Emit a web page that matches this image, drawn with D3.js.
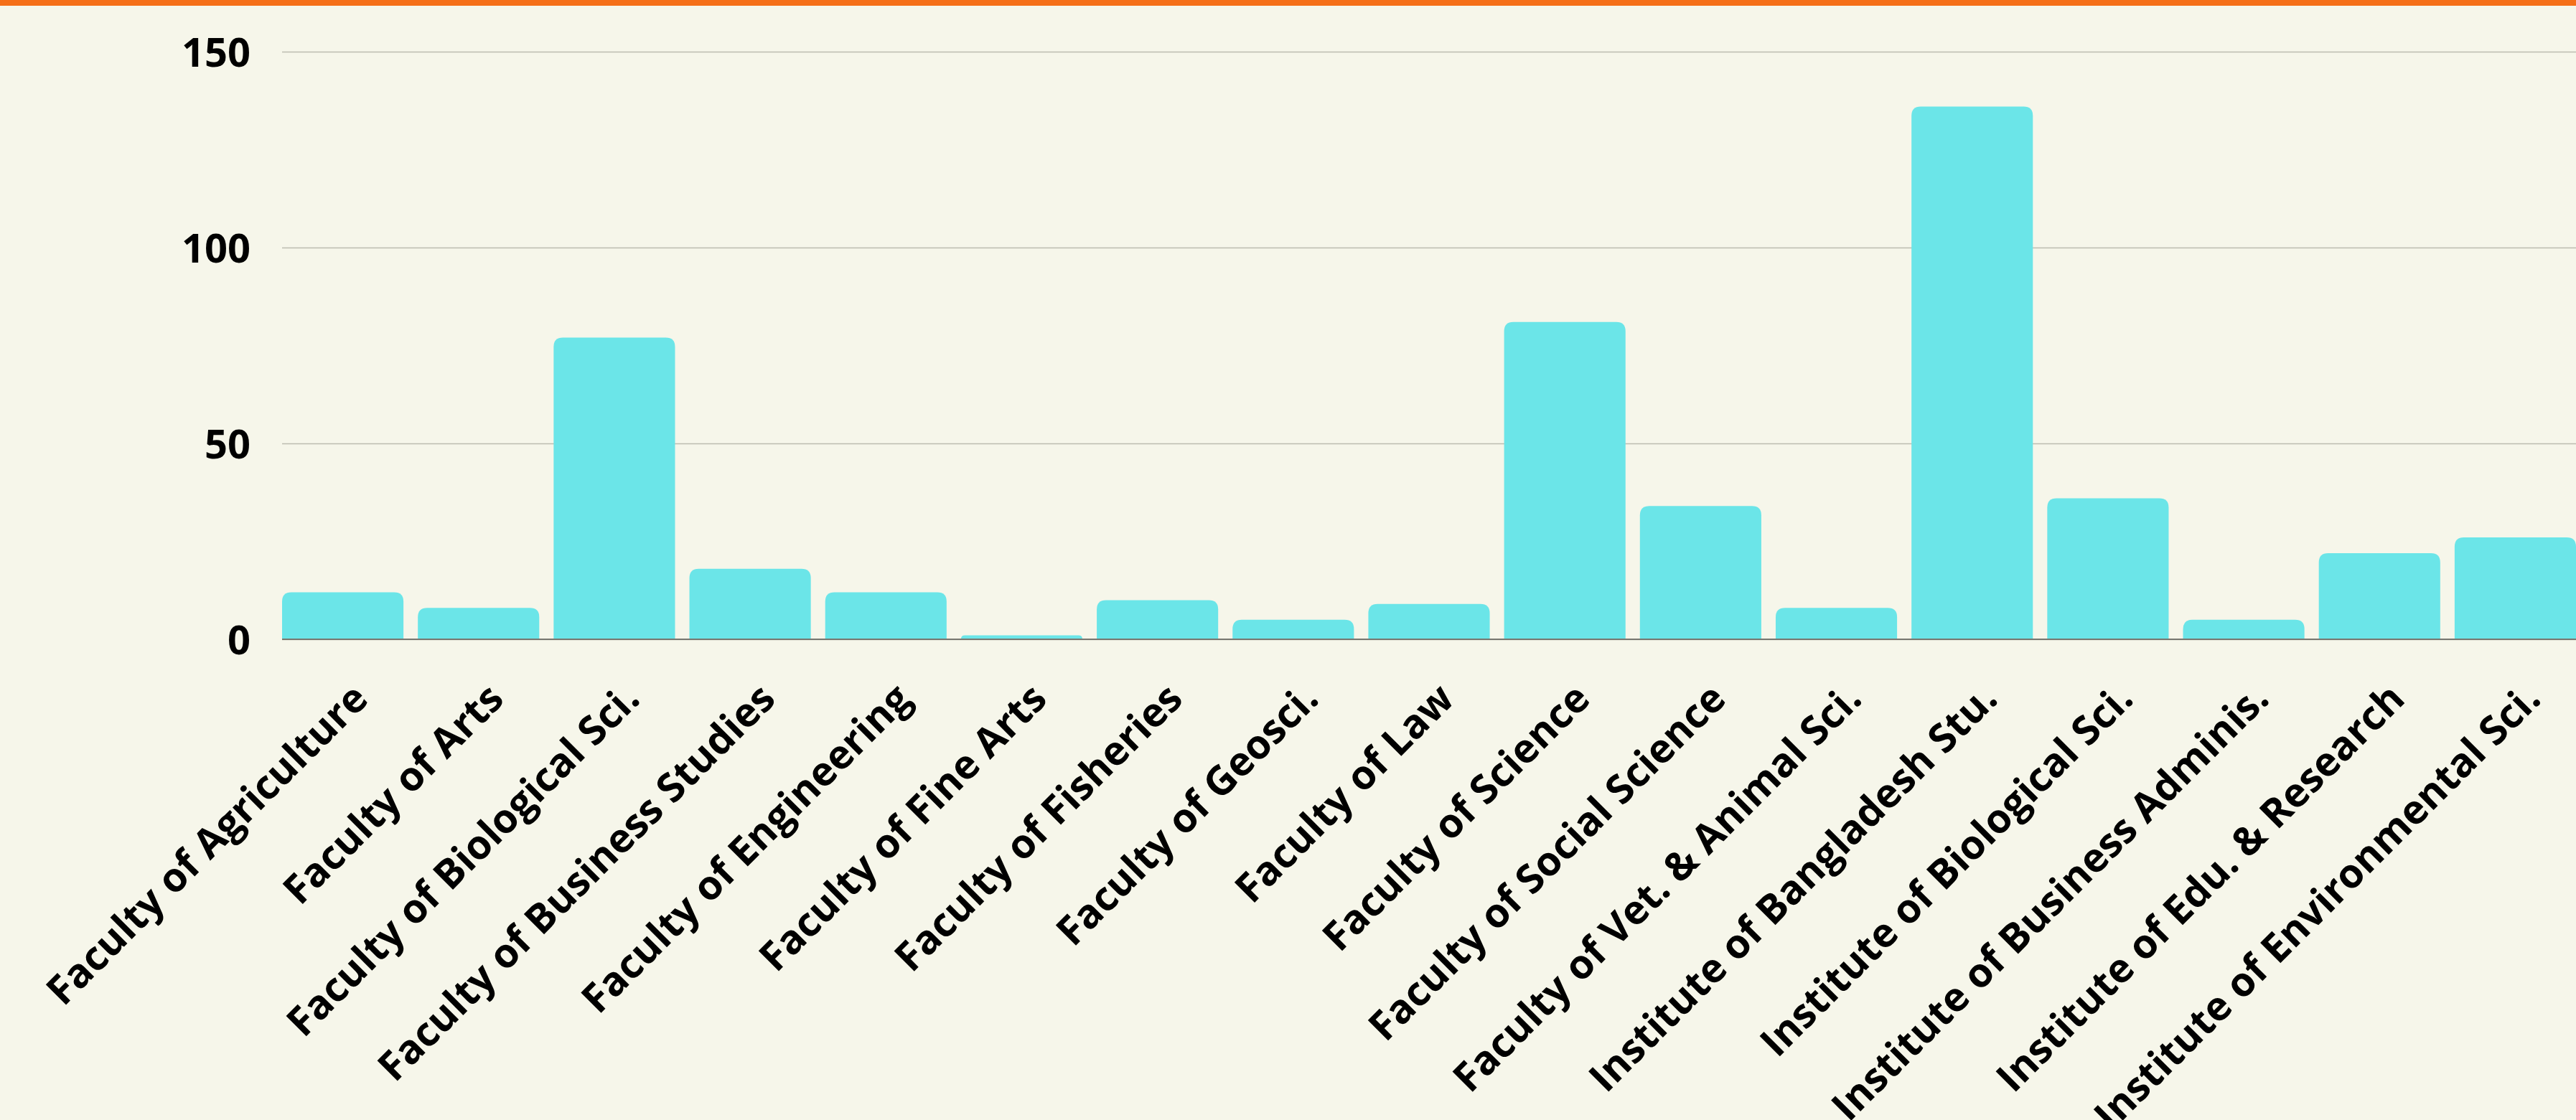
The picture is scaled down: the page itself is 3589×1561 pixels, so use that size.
<!DOCTYPE html>
<html>
<head>
<meta charset="utf-8">
<script src="https://cdn.jsdelivr.net/npm/d3@7"></script>
<style>
  html, body { margin: 0; padding: 0; background: #F6F6EA; overflow: hidden; }
  #chart { width: 3589px; height: 1561px; }
  text { font-family: 'Open Sans', 'Noto Sans', sans-serif; font-weight: 700; fill: #000; }
</style>
</head>
<body>
<div id="chart"></div>
<script>
const categories = [
  'Faculty of Agriculture',
  'Faculty of Arts',
  'Faculty of Biological Sci.',
  'Faculty of Business Studies',
  'Faculty of Engineering',
  'Faculty of Fine Arts',
  'Faculty of Fisheries',
  'Faculty of Geosci.',
  'Faculty of Law',
  'Faculty of Science',
  'Faculty of Social Science',
  'Faculty of Vet. & Animal Sci.',
  'Institute of Bangladesh Stu.',
  'Institute of Biological Sci.',
  'Institute of Business Adminis.',
  'Institute of Edu. & Research',
  'Institute of Environmental Sci.'
];
const values = [12, 8, 77, 18, 12, 1, 10, 5, 9, 81, 34, 8, 136, 36, 5, 22, 26];
const yTicks = [0, 50, 100, 150];

function chart() {
  const width = 3589;
  const height = 1561;
  const margin = { top: 72, left: 393, right: 0, bottom: 670 };
  const barColor = '#6BE5E8';
  const gridColor = '#BDBDB0';
  const radius = 13;

  const svg = d3.select('#chart')
    .append('svg')
    .attr('width', width)
    .attr('height', height);

  svg.append('rect')
    .attr('width', width)
    .attr('height', height)
    .attr('fill', '#F6F6EA');

  // orange strip along the top
  svg.append('rect')
    .attr('width', width)
    .attr('height', 8)
    .attr('fill', '#F56F18');

  const x = d3.scaleBand()
    .domain(categories)
    .range([margin.left, width - margin.right])
    .paddingInner(0.106)
    .paddingOuter(0);

  const y = d3.scaleLinear()
    .domain([0, 150])
    .range([height - margin.bottom, margin.top]);

  // gridlines + tick labels
  const yAxis = d3.axisLeft(y)
    .tickValues(yTicks)
    .tickSize(-(width - margin.left))
    .tickPadding(44);

  svg.append('g')
    .attr('transform', `translate(${margin.left},0)`)
    .call(yAxis)
    .call(g => g.select('.domain').remove())
    .call(g => g.selectAll('.tick line').attr('stroke', gridColor).attr('stroke-width', 1.5))
    .call(g => g.selectAll('.tick text')
      .attr('fill', '#000')
      .style('font-size', '56px')
      .attr('dy', '0.36em'));

  // bars with rounded top corners
  function barPath(d, i) {
    const x0 = x(categories[i]);
    const w = x.bandwidth();
    const yb = y(0);
    const yt = y(d);
    const r = Math.min(radius, yb - yt, w / 2);
    return `M${x0},${yb}V${yt + r}Q${x0},${yt} ${x0 + r},${yt}` +
      `H${x0 + w - r}Q${x0 + w},${yt} ${x0 + w},${yt + r}V${yb}Z`;
  }

  svg.append('g')
    .selectAll('path')
    .data(values)
    .join('path')
    .attr('d', barPath)
    .attr('fill', barColor);

  // baseline
  svg.append('line')
    .attr('x1', margin.left)
    .attr('x2', width)
    .attr('y1', y(0))
    .attr('y2', y(0))
    .attr('stroke', '#777770')
    .attr('stroke-width', 2);

  // rotated category labels
  svg.append('g')
    .selectAll('text')
    .data(categories)
    .join('text')
    .attr('transform', d =>
      `translate(${x(d) + x.bandwidth() / 2 + 38},${y(0) + 86}) rotate(-45)`)
    .attr('text-anchor', 'end')
    .style('font-size', '56px')
    .text(d => d);
}

chart();
</script>
</body>
</html>
